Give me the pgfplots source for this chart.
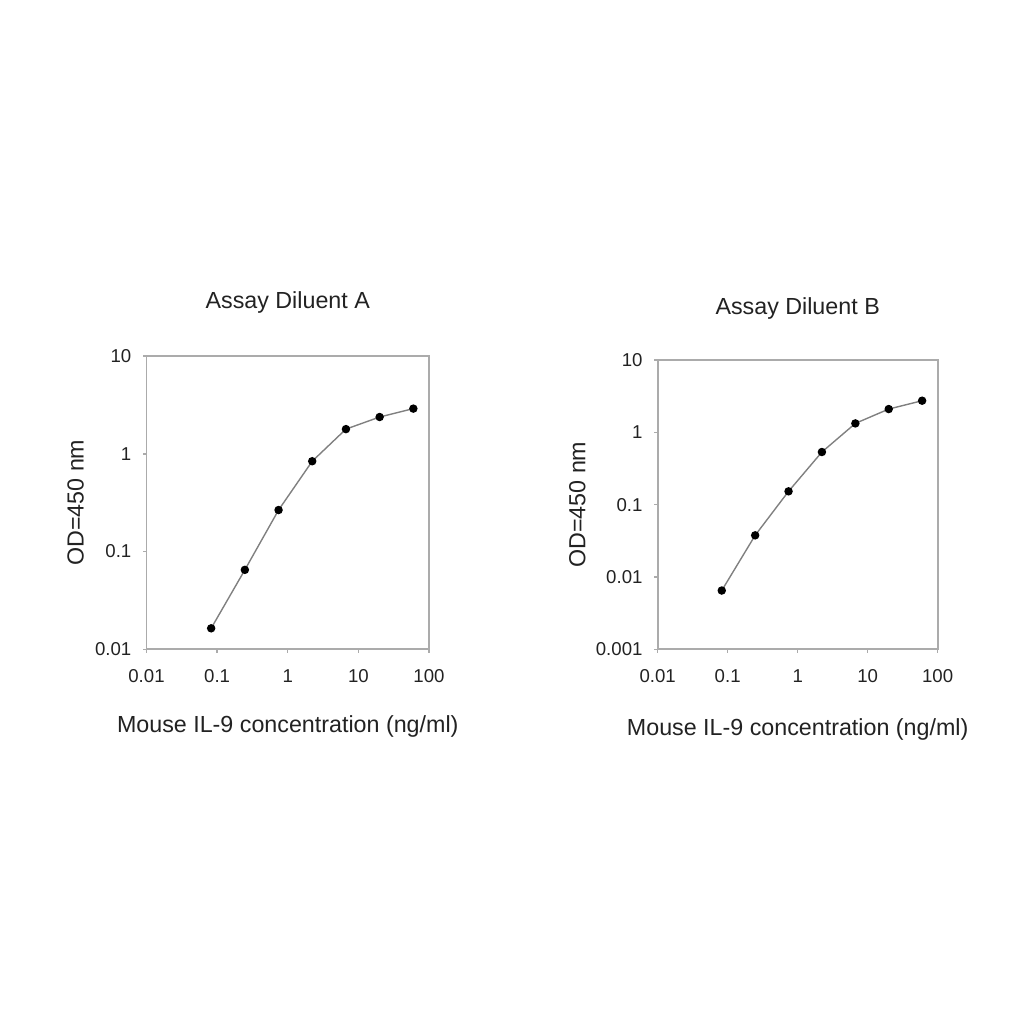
\documentclass[border=0pt]{standalone}
\usepackage{fontspec}
\setmainfont{Liberation Sans}
\usepackage{pgfplots}
\pgfplotsset{compat=1.18}

\definecolor{axisgray}{HTML}{ABABAB}
\definecolor{curvegray}{HTML}{808080}
\definecolor{txt}{HTML}{222222}

\begin{document}
\begin{tikzpicture}
\path[use as bounding box] (0,0) rectangle (440pt,440pt);

% left panel: Assay Diluent A
\begin{axis}[
  at={(62.95pt,161.0pt)}, anchor=south west,
  scale only axis, width=121.4pt, height=126pt,
  xmode=log, ymode=log,
  xmin=0.01, xmax=100, ymin=0.01, ymax=10,
  xtick={0.01,0.1,1,10,100}, xticklabels={0.01,0.1,1,10,100},
  ytick={0.01,0.1,1,10}, yticklabels={0.01,0.1,1,10},
  xminorticks=false, yminorticks=false,
  xtick pos=left, ytick pos=left, tick align=outside,
  major tick length=1.5pt,
  tick style={draw=axisgray, line width=0.6pt},
  axis line style={draw=axisgray, line width=0.8pt},
  tick label style={font=\fontsize{8}{9}\selectfont, text=txt},
  xticklabel style={anchor=center, yshift=-10pt},
  yticklabel style={anchor=east, xshift=-1.5pt},
  xlabel={Mouse IL-9 concentration (ng/ml)},
  ylabel={OD=450 nm},
  xlabel style={font=\fontsize{10}{12}\selectfont, text=txt, at={(axis description cs:0.5,0)}, anchor=center, yshift=-33pt},
  ylabel style={font=\fontsize{10}{12}\selectfont, text=txt, at={(axis description cs:0,0.5)}, anchor=center, yshift=30.5pt},
  title={Assay Diluent A},
  title style={font=\fontsize{10}{12}\selectfont, text=txt, at={(axis description cs:0.5,1)}, anchor=center, yshift=17.2pt},
]
\addplot[draw=curvegray, line width=0.6pt, mark=*, mark options={fill=black, draw=black, scale=0.75}] coordinates {
  (0.0823,0.0164) (0.247,0.065) (0.741,0.266) (2.22,0.84)
  (6.67,1.79) (20,2.38) (60,2.9)
};
\end{axis}

% right panel: Assay Diluent B
\begin{axis}[
  at={(282.6pt,161.0pt)}, anchor=south west,
  scale only axis, width=120.3pt, height=124.3pt,
  xmode=log, ymode=log,
  xmin=0.01, xmax=100, ymin=0.001, ymax=10,
  xtick={0.01,0.1,1,10,100}, xticklabels={0.01,0.1,1,10,100},
  ytick={0.001,0.01,0.1,1,10}, yticklabels={0.001,0.01,0.1,1,10},
  xminorticks=false, yminorticks=false,
  xtick pos=left, ytick pos=left, tick align=outside,
  major tick length=1.5pt,
  tick style={draw=axisgray, line width=0.6pt},
  axis line style={draw=axisgray, line width=0.8pt},
  tick label style={font=\fontsize{8}{9}\selectfont, text=txt},
  xticklabel style={anchor=center, yshift=-10pt},
  yticklabel style={anchor=east, xshift=-1.5pt},
  xlabel={Mouse IL-9 concentration (ng/ml)},
  ylabel={OD=450 nm},
  xlabel style={font=\fontsize{10}{12}\selectfont, text=txt, at={(axis description cs:0.5,0)}, anchor=center, yshift=-34.5pt},
  ylabel style={font=\fontsize{10}{12}\selectfont, text=txt, at={(axis description cs:0,0.5)}, anchor=center, yshift=34.5pt},
  title={Assay Diluent B},
  title style={font=\fontsize{10}{12}\selectfont, text=txt, at={(axis description cs:0.5,1)}, anchor=center, yshift=16pt},
]
\addplot[draw=curvegray, line width=0.6pt, mark=*, mark options={fill=black, draw=black, scale=0.75}] coordinates {
  (0.0823,0.0065) (0.247,0.0377) (0.741,0.153) (2.22,0.535)
  (6.67,1.33) (20,2.10) (60,2.74)
};
\end{axis}
\end{tikzpicture}
\end{document}
